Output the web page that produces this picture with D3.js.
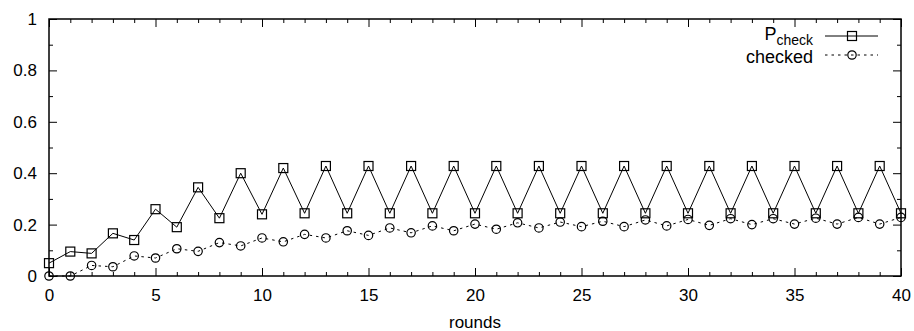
<!DOCTYPE html>
<html>
<head>
<meta charset="utf-8">
<script src="https://cdn.jsdelivr.net/npm/d3@7"></script>
<style>
  html, body { margin: 0; padding: 0; background: #fff; }
  svg { display: block; }
  text { font-family: "Liberation Sans", Arial, Helvetica, sans-serif; fill: #000; }
</style>
</head>
<body>
<svg id="chart" width="914" height="331"></svg>
<script>
// Rounds on the x axis
const rounds = [0,1,2,3,4,5,6,7,8,9,10,11,12,13,14,15,16,17,18,19,20,
                21,22,23,24,25,26,27,28,29,30,31,32,33,34,35,36,37,38,39,40];

// Probability of a check per round
const pCheck = [0.05,0.095,0.088,0.166,0.14,0.26,0.19,0.345,0.225,0.40,0.24,0.42,
                0.244,0.428,0.244,0.428,0.244,0.428,0.244,0.428,0.244,0.428,
                0.244,0.428,0.244,0.428,0.244,0.428,0.244,0.428,0.244,0.428,
                0.244,0.428,0.244,0.428,0.244,0.428,0.244,0.428,0.244];

// Fraction already checked per round
const checked = [0,0,0.041,0.036,0.078,0.07,0.106,0.096,0.13,0.117,0.148,0.133,
                 0.162,0.148,0.176,0.158,0.187,0.168,0.195,0.176,0.202,0.182,
                 0.207,0.187,0.21,0.192,0.213,0.192,0.218,0.195,0.22,0.197,
                 0.223,0.2,0.223,0.202,0.225,0.202,0.228,0.202,0.228];

const xTicks = [0,5,10,15,20,25,30,35,40];
const yTicks = [0,0.2,0.4,0.6,0.8,1];
const xLabel = "rounds";

const svg = d3.select("#chart");
const plotL = 49, plotR = 901, plotT = 19, plotB = 276;

const x = d3.scaleLinear().domain([0, 40]).range([plotL, plotR]);
const y = d3.scaleLinear().domain([0, 1]).range([plotB, plotT]);

const fmtY = v => v === 0 ? "0" : v === 1 ? "1" : d3.format(".1f")(v);

// Minor ticks on all four sides
const minorX = d3.range(0, 41, 1).filter(v => v % 5 !== 0);
const minorY = [0.1,0.3,0.5,0.7,0.9];
svg.append("g").attr("transform", `translate(0,${plotB})`)
  .call(d3.axisBottom(x).tickValues(minorX).tickSize(-4).tickFormat(""));
svg.append("g").attr("transform", `translate(0,${plotT})`)
  .call(d3.axisTop(x).tickValues(minorX).tickSize(-4).tickFormat(""));
svg.append("g").attr("transform", `translate(${plotL},0)`)
  .call(d3.axisLeft(y).tickValues(minorY).tickSize(-4).tickFormat(""));
svg.append("g").attr("transform", `translate(${plotR},0)`)
  .call(d3.axisRight(y).tickValues(minorY).tickSize(-4).tickFormat(""));

// Major ticks, labelled on bottom and left
svg.append("g").attr("class", "xaxis").attr("transform", `translate(0,${plotB})`)
  .call(d3.axisBottom(x).tickValues(xTicks).tickSize(-8).tickPadding(13).tickFormat(d3.format("d")));
svg.append("g").attr("transform", `translate(0,${plotT})`)
  .call(d3.axisTop(x).tickValues(xTicks).tickSize(-8).tickFormat(""));
svg.append("g").attr("class", "yaxis").attr("transform", `translate(${plotL},0)`)
  .call(d3.axisLeft(y).tickValues(yTicks).tickSize(-8).tickPadding(12).tickFormat(fmtY));
svg.append("g").attr("transform", `translate(${plotR},0)`)
  .call(d3.axisRight(y).tickValues(yTicks).tickSize(-8).tickFormat(""));

svg.selectAll(".domain").remove();
svg.selectAll(".tick line").attr("stroke", "#000").attr("stroke-width", 1);
svg.selectAll(".xaxis text, .yaxis text")
  .attr("font-size", 17).attr("font-family", "Liberation Sans, Arial, sans-serif").attr("fill", "#000");

// Axis title
svg.append("text")
  .attr("x", (plotL + plotR) / 2).attr("y", 328)
  .attr("text-anchor", "middle").attr("font-size", 17)
  .text(xLabel);

// Series
const line = d3.line().x((d, i) => x(rounds[i])).y(d => y(d));

svg.append("path").datum(pCheck)
  .attr("fill", "none").attr("stroke", "#000").attr("stroke-width", 1)
  .attr("d", line);

svg.append("path").datum(checked)
  .attr("fill", "none").attr("stroke", "#000").attr("stroke-width", 1)
  .attr("stroke-dasharray", "2.5,4")
  .attr("d", line);

const sq = 9;
svg.append("g").selectAll("rect").data(pCheck).join("rect")
  .attr("x", (d, i) => x(rounds[i]) - sq / 2)
  .attr("y", d => y(d) - sq / 2)
  .attr("width", sq).attr("height", sq)
  .attr("fill", "none").attr("stroke", "#000").attr("stroke-width", 1.2);

svg.append("g").selectAll("circle").data(checked).join("circle")
  .attr("cx", (d, i) => x(rounds[i]))
  .attr("cy", d => y(d))
  .attr("r", 4.2)
  .attr("fill", "none").attr("stroke", "#000").attr("stroke-width", 1.2);

// Plot frame
svg.append("rect")
  .attr("x", plotL).attr("y", plotT)
  .attr("width", plotR - plotL).attr("height", plotB - plotT)
  .attr("fill", "none").attr("stroke", "#000").attr("stroke-width", 1.5);

// Legend
const legend = svg.append("g");
const lx0 = 825, lx1 = 878, lm = 852, ltx = 813;

const t1 = legend.append("text").attr("x", ltx).attr("y", 40)
  .attr("text-anchor", "end").attr("font-size", 18);
t1.append("tspan").text("P");
t1.append("tspan").attr("font-size", 14).attr("dy", 5).text("check");

legend.append("line").attr("x1", lx0).attr("x2", lx1).attr("y1", 36).attr("y2", 36)
  .attr("stroke", "#000").attr("stroke-width", 1);
legend.append("rect").attr("x", lm - sq / 2).attr("y", 36 - sq / 2)
  .attr("width", sq).attr("height", sq)
  .attr("fill", "none").attr("stroke", "#000").attr("stroke-width", 1.2);

legend.append("text").attr("x", ltx).attr("y", 62.5)
  .attr("text-anchor", "end").attr("font-size", 18).text("checked");
legend.append("line").attr("x1", lx0).attr("x2", lx1).attr("y1", 55).attr("y2", 55)
  .attr("stroke", "#000").attr("stroke-width", 1).attr("stroke-dasharray", "2.5,4");
legend.append("circle").attr("cx", lm).attr("cy", 55).attr("r", 4.2)
  .attr("fill", "none").attr("stroke", "#000").attr("stroke-width", 1.2);
</script>
</body>
</html>
